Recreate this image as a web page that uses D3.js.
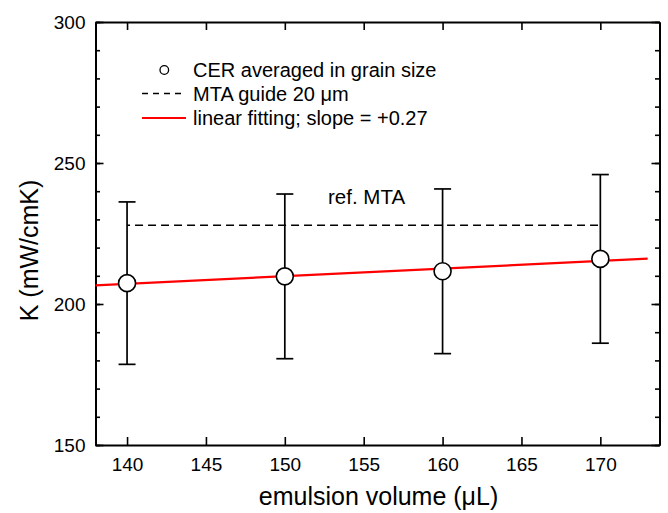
<!DOCTYPE html>
<html>
<head>
<meta charset="utf-8">
<script src="https://cdn.jsdelivr.net/npm/d3@7"></script>
<style>
  html, body { margin: 0; padding: 0; background: #fff; }
  svg { display: block; font-family: "Liberation Sans", Arial, sans-serif; }
</style>
</head>
<body>
<svg id="chart" width="668" height="513"></svg>
<script>
// Measured thermal conductivity vs. emulsion volume
const volumes = [140, 150, 160, 170];
const kMean = [207.4, 209.8, 211.6, 216.0];
const kErr = [28.8, 29.2, 29.2, 29.9];

// Reference level (MTA guide, 20 µm) spanning the measured range
const refLevel = 227.9;
const refRange = [140, 170];

// Linear fit: slope from the legend, anchored at the data centroid
const fitSlope = 0.27;
const fitCenter = [155, 211.2];
const fitRange = [138, 173];

const xTicks = [140, 145, 150, 155, 160, 165, 170];
const yTicks = [150, 200, 250, 300];
const yMinorTicks = d3.range(150, 301, 10);

const legendLabels = ["CER averaged in grain size", "MTA guide 20 \u03bcm", "linear fitting; slope = +0.27"];

const svg = d3.select("#chart");
const plotL = 95.5, plotR = 659.5, plotT = 22, plotB = 445;

const x = d3.scaleLinear().domain([138, 173.75]).range([plotL, plotR]);
const y = d3.scaleLinear().domain([150, 300]).range([plotB, plotT]);

const axisStyle = g => {
  g.selectAll("path.domain").attr("stroke", "#000").attr("stroke-width", 2);
  g.selectAll(".tick line").attr("stroke", "#000").attr("stroke-width", 1.6);
  g.selectAll(".tick text").attr("fill", "#000").attr("font-size", 19)
    .attr("font-family", "'Liberation Sans', Arial, sans-serif");
};

// Minor y ticks (both sides)
svg.append("g").attr("transform", `translate(${plotL},0)`)
  .call(d3.axisLeft(y).tickValues(yMinorTicks).tickSizeInner(-4.5).tickSizeOuter(0).tickFormat(""))
  .call(axisStyle);
svg.append("g").attr("transform", `translate(${plotR},0)`)
  .call(d3.axisRight(y).tickValues(yMinorTicks).tickSizeInner(-4.5).tickSizeOuter(0).tickFormat(""))
  .call(axisStyle);

// Major axes
svg.append("g").attr("transform", `translate(0,${plotB})`)
  .call(d3.axisBottom(x).tickValues(xTicks).tickSizeInner(-8).tickSizeOuter(0).tickPadding(12.5).tickFormat(d3.format("d")))
  .call(axisStyle);
svg.append("g").attr("transform", `translate(0,${plotT})`)
  .call(d3.axisTop(x).tickValues(xTicks).tickSizeInner(-8).tickSizeOuter(0).tickFormat(""))
  .call(axisStyle);
svg.append("g").attr("transform", `translate(${plotL},0)`)
  .call(d3.axisLeft(y).tickValues(yTicks).tickSizeInner(-8).tickSizeOuter(0).tickPadding(10).tickFormat(d3.format("d")))
  .call(axisStyle);
svg.append("g").attr("transform", `translate(${plotR},0)`)
  .call(d3.axisRight(y).tickValues(yTicks).tickSizeInner(-8).tickSizeOuter(0).tickFormat(""))
  .call(axisStyle);

// Axis titles
svg.append("text")
  .attr("x", (plotL + plotR) / 2 + 1).attr("y", 505)
  .attr("text-anchor", "middle").attr("font-size", 25).attr("fill", "#000")
  .text("emulsion volume (\u03bcL)");
svg.append("text")
  .attr("transform", `translate(38,${(plotT + plotB) / 2 + 17}) rotate(-90)`)
  .attr("text-anchor", "middle").attr("font-size", 25).attr("fill", "#000")
  .text("K (mW/cmK)");

// Reference dashed line
svg.append("line")
  .attr("x1", x(refRange[0])).attr("x2", x(refRange[1]))
  .attr("y1", y(refLevel)).attr("y2", y(refLevel))
  .attr("stroke", "#000").attr("stroke-width", 1.6)
  .attr("stroke-dasharray", "8 5").attr("stroke-dashoffset", 5);

svg.append("text")
  .attr("x", 328).attr("y", 204)
  .attr("font-size", 20.5).attr("fill", "#000")
  .text("ref. MTA");

// Fit line
const fit = v => fitCenter[1] + fitSlope * (v - fitCenter[0]);
svg.append("line")
  .attr("x1", x(fitRange[0])).attr("x2", x(fitRange[1]))
  .attr("y1", y(fit(fitRange[0]))).attr("y2", y(fit(fitRange[1])))
  .attr("stroke", "#ff0000").attr("stroke-width", 2.2);

// Error bars
const pts = volumes.map((v, i) => ({ v, k: kMean[i], e: kErr[i] }));
const eb = svg.append("g").attr("stroke", "#000").attr("stroke-width", 1.7);
const capHalf = 8.5;
pts.forEach(d => {
  eb.append("line").attr("x1", x(d.v)).attr("x2", x(d.v))
    .attr("y1", y(d.k + d.e)).attr("y2", y(d.k - d.e));
  [d.k + d.e, d.k - d.e].forEach(val => {
    eb.append("line").attr("x1", x(d.v) - capHalf).attr("x2", x(d.v) + capHalf)
      .attr("y1", y(val)).attr("y2", y(val));
  });
});

// Data markers (open circles)
svg.append("g").selectAll("circle").data(pts).join("circle")
  .attr("cx", d => x(d.v)).attr("cy", d => y(d.k)).attr("r", 8.5)
  .attr("fill", "#fff").attr("stroke", "#000").attr("stroke-width", 1.6);

// Legend
const lg = svg.append("g");
const lgX0 = 142, lgX1 = 186, lgText = 193;
const rows = [70, 93.5, 118];
lg.append("circle").attr("cx", 164.3).attr("cy", rows[0]).attr("r", 4.3)
  .attr("fill", "#fff").attr("stroke", "#000").attr("stroke-width", 1.3);
lg.append("line").attr("x1", lgX0).attr("x2", lgX1).attr("y1", rows[1]).attr("y2", rows[1])
  .attr("stroke", "#000").attr("stroke-width", 1.6).attr("stroke-dasharray", "6 5");
lg.append("line").attr("x1", lgX0).attr("x2", lgX1).attr("y1", rows[2]).attr("y2", rows[2])
  .attr("stroke", "#ff0000").attr("stroke-width", 2.2);
legendLabels.forEach((t, i) => {
  lg.append("text").attr("x", lgText).attr("y", rows[i] + 7)
    .attr("font-size", 20).attr("fill", "#000").text(t);
});
</script>
</body>
</html>
